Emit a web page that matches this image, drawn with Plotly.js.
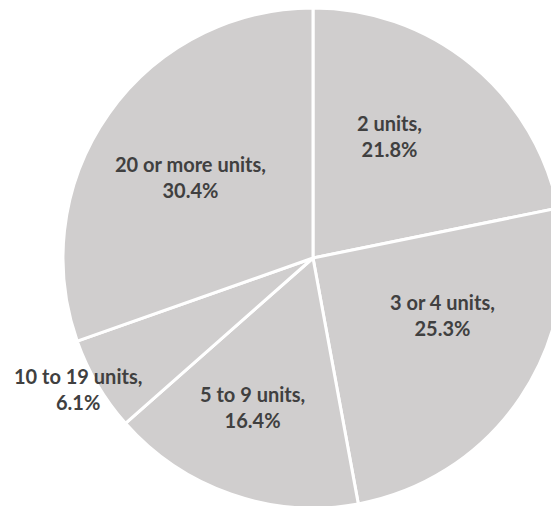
<!DOCTYPE html>
<html>
<head>
<meta charset="utf-8">
<script src="https://cdn.plot.ly/plotly-3.0.1.min.js"></script>
<style>html,body{margin:0;padding:0;overflow:hidden;background:#fff;}</style>
</head>
<body>
<div id="chart"></div>
<script>
const categories = ["2 units", "3 or 4 units", "5 to 9 units", "10 to 19 units", "20 or more units"];
const shares = [21.8, 25.3, 16.4, 6.1, 30.4];

// Layout geometry (pixels)
const W = 563, H = 516;
const M = {l: 63, r: 0, t: 8, b: 8};
const plotW = W - M.l - M.r, plotH = H - M.t - M.b;
// label centres in pixels (positions only)
const labelPx = [[389, 136], [442, 315], [252, 407], [78, 389], [190, 177]];

const trace = {
  type: 'pie',
  labels: categories,
  values: shares,
  textinfo: 'none',
  sort: false,
  direction: 'clockwise',
  rotation: 0,
  marker: {colors: categories.map(() => '#d0cece'), line: {color: '#ffffff', width: 3}},
  hoverinfo: 'none',
  showlegend: false
};

const annotations = categories.map((c, i) => ({
  xref: 'paper', yref: 'paper',
  x: (labelPx[i][0] - M.l) / plotW,
  y: 1 - (labelPx[i][1] - M.t) / plotH,
  xanchor: 'center', yanchor: 'middle',
  showarrow: false,
  align: 'center',
  text: c + ',<br>' + shares[i].toFixed(1) + '%',
  font: {family: 'Lato, sans-serif', size: 20, color: '#404040', weight: 'bold'}
}));

const layout = {
  width: W,
  height: H,
  margin: M,
  paper_bgcolor: '#ffffff',
  showlegend: false,
  annotations: annotations
};

Plotly.newPlot('chart', [trace], layout, {staticPlot: true});
</script>
</body>
</html>
